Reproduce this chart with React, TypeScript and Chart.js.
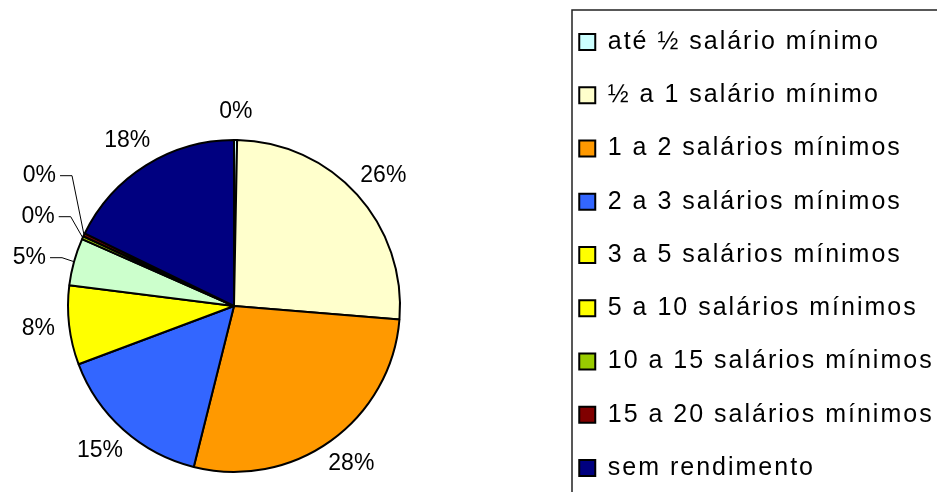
import React, { useEffect, useRef } from 'react';
import { Chart, registerables } from 'chart.js';

Chart.register(...registerables);

const categories = [
  'até ½ salário mínimo',
  '½ a 1 salário mínimo',
  '1 a 2 salários mínimos',
  '2 a 3 salários mínimos',
  '3 a 5 salários mínimos',
  '5 a 10 salários mínimos',
  '10 a 15 salários mínimos',
  '15 a 20 salários mínimos',
  'sem rendimento',
];
const shares = [0.3, 26.0, 27.6, 15.4, 7.7, 4.6, 0.3, 0.3, 17.8];
const sliceColors = ['#CCFFFF', '#FFFFCC', '#FF9900', '#3366FF', '#FFFF00', '#CCFFCC', '#99CC00', '#800000', '#000080'];
const legendColors = ['#CCFFFF', '#FFFFCC', '#FF9900', '#3366FF', '#FFFF00', '#FFFF00', '#99CC00', '#800000', '#000080'];

const FONT = "'Liberation Sans', Arial, Helvetica, sans-serif";
const LEGEND_SIZE = 25;
const LEGEND_SPACING = '2px';
const LEGEND_PAD = 28.25;
const BOX = 16;

const spacingPlugin = {
  id: 'legendSpacing',
  beforeLayout(chart: any) {
    chart.ctx.letterSpacing = LEGEND_SPACING;
  },
  beforeDraw(chart: any) {
    chart.ctx.letterSpacing = LEGEND_SPACING;
  },
};

const labelPlugin = {
  id: 'pieLabels',
  afterDraw(chart: any) {
    const ctx = chart.ctx;
    const meta = chart.getDatasetMeta(0);
    const data = chart.data.datasets[0].data as number[];
    const total = data.reduce((a, b) => a + b, 0);
    ctx.save();
    ctx.letterSpacing = '0px';
    ctx.font = `23px ${FONT}`;
    ctx.fillStyle = '#000';
    ctx.textBaseline = 'middle';
    const callouts: any[] = [];
    meta.data.forEach((arc: any, i: number) => {
      const p = arc.getProps(['x', 'y', 'startAngle', 'endAngle', 'outerRadius'], true);
      const mid = (p.startAngle + p.endAngle) / 2;
      const c = Math.cos(mid);
      const s = Math.sin(mid);
      const share = data[i] / total;
      const text = Math.round(share * 100) + '%';
      const w = ctx.measureText(text).width;
      if (share < 0.06 && c < 0) {
        callouts.push({ text, ax: p.x + p.outerRadius * c, ay: p.y + p.outerRadius * s });
      } else {
        const R = p.outerRadius + 20;
        ctx.textAlign = 'center';
        ctx.fillText(text, p.x + R * c + (c * w) / 3, p.y + R * s + (s * 17) / 2);
      }
    });
    callouts.sort((a, b) => b.ay - a.ay);
    let prev = Infinity;
    ctx.strokeStyle = '#000';
    ctx.lineWidth = 1;
    callouts.forEach((co) => {
      let ly = co.ay - 4;
      if (ly > prev - 41) ly = prev - 41;
      prev = ly;
      const right = co.ax - 28;
      ctx.textAlign = 'right';
      ctx.fillText(co.text, right, ly);
      ctx.beginPath();
      ctx.moveTo(right + 4, ly);
      ctx.lineTo(right + 16, ly);
      ctx.lineTo(co.ax, co.ay);
      ctx.stroke();
    });
    const lg = chart.legend;
    ctx.lineWidth = 1.5;
    ctx.strokeStyle = '#222';
    ctx.strokeRect(lg.left + 21, 10, 2000, 2000);
    ctx.restore();
  },
};

export default function App() {
  const ref = useRef<HTMLCanvasElement | null>(null);
  useEffect(() => {
    const canvas = ref.current;
    if (!canvas) return;
    // measure the legend so that it starts where the reference's does
    const m = document.createElement('canvas').getContext('2d') as any;
    m.font = `${LEGEND_SIZE}px ${FONT}`;
    m.letterSpacing = LEGEND_SPACING;
    const maxText = Math.max(...categories.map((t) => m.measureText(t).width));
    const legendW = LEGEND_PAD + BOX + LEGEND_SIZE / 2 + maxText + 10;
    const legendLeft = 651;
    const W = legendLeft + Math.ceil(legendW) + 2;
    const padRight = W - legendLeft - legendW;
    canvas.width = W;
    canvas.height = 612;
    canvas.style.width = W + 'px';
    canvas.style.height = '612px';

    const chart = new Chart(canvas, {
      type: 'pie',
      data: {
        labels: categories,
        datasets: [
          {
            data: shares,
            backgroundColor: sliceColors,
            borderColor: '#000',
            borderWidth: 2,
            radius: 166,
          } as any,
        ],
      },
      options: {
        responsive: false,
        maintainAspectRatio: false,
        animation: false,
        events: [],
        devicePixelRatio: 1,
        layout: { padding: { left: 17, right: padRight, top: 1.25, bottom: 1.25 } },
        plugins: {
          tooltip: { enabled: false },
          legend: {
            position: 'right',
            align: 'start',
            labels: {
              font: { family: FONT, size: LEGEND_SIZE },
              color: '#000',
              boxWidth: BOX,
              boxHeight: BOX,
              padding: LEGEND_PAD,
              generateLabels: () =>
                categories.map((t, i) => ({
                  text: t,
                  fillStyle: legendColors[i],
                  strokeStyle: '#000',
                  lineWidth: 2,
                  hidden: false,
                  index: i,
                  fontColor: '#000',
                })),
            },
          },
        },
      } as any,
      plugins: [spacingPlugin, labelPlugin],
    });
    return () => chart.destroy();
  }, []);
  return (
    <div
      style={{
        position: 'fixed',
        left: 0,
        top: 0,
        width: 937,
        height: 492,
        overflow: 'hidden',
        background: '#fff',
      }}
    >
      <canvas ref={ref} style={{ position: 'absolute', left: -100, top: 0 }} />
    </div>
  );
}
